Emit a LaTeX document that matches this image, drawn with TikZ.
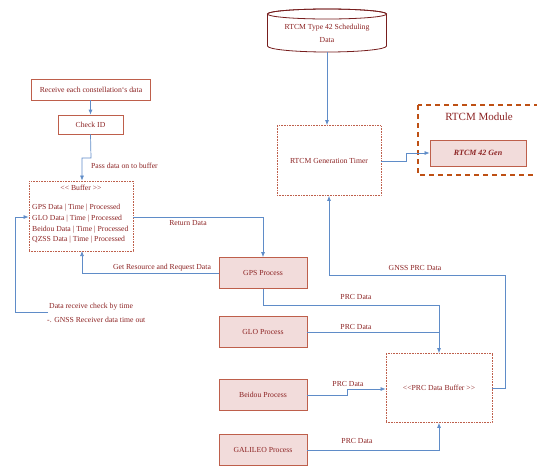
\documentclass[tikz,border=0pt]{standalone}
\usepackage{fontspec}
\setmainfont{Liberation Serif}
\usetikzlibrary{shapes.geometric,arrows.meta}
\definecolor{txt}{RGB}{140,35,35}
\definecolor{bord}{RGB}{190,95,75}
\definecolor{modc}{RGB}{190,80,20}
\definecolor{pinkf}{RGB}{242,220,219}
\definecolor{lnc}{RGB}{95,140,200}
\tikzset{
  base/.style={font=\fontsize{7.7}{9}\selectfont, text=txt, inner sep=1pt},
  plainbox/.style={base, draw=bord, line width=0.7pt, fill=white, minimum height=20pt},
  dotbox/.style={base, draw=bord, line width=0.8pt, dash pattern=on 0.8pt off 0.8pt},
  procbox/.style={base, draw=bord, line width=0.8pt, fill=pinkf, minimum width=88pt, minimum height=31pt},
  conn/.style={draw=lnc, line width=0.7pt},
  arr/.style={conn, -{Latex[length=5pt,width=4pt]}},
  lbl/.style={base}
}
\begin{document}
\begin{tikzpicture}[x=1pt,y=-1pt]
\useasboundingbox (0,0) rectangle (537,467);
\clip (0,0) rectangle (537,467);
% cylinder
\draw[txt!85!black, line width=0.8pt, fill=white]
  (267.5,14) -- (267.5,46) arc[start angle=180, end angle=0, x radius=59.5, y radius=6]
  -- (386.5,14) arc[start angle=0, end angle=-180, x radius=59.5, y radius=5];
\draw[txt!85!black, line width=0.8pt] (327,14) ellipse[x radius=59.5, y radius=5];
\node[base, align=center, font=\fontsize{7.7}{13}\selectfont, inner sep=0pt] (cyl) at (327,33)
  {RTCM Type 42 Scheduling\\Data};
% timer
\node[dotbox, minimum width=104pt, minimum height=70pt] (timer) at (329,160.5) {RTCM Generation Timer};
% module
\draw[modc, line width=1.3pt, dash pattern=on 5pt off 4pt] (418,105) rectangle (548,175);
\node[base, font=\fontsize{11}{12}\selectfont] (modlbl) at (479,117) {RTCM Module};
\node[base, draw=bord, line width=0.8pt, fill=pinkf, minimum width=96pt, minimum height=26pt,
  font=\fontsize{8}{9}\selectfont\bfseries\itshape] (gen) at (478,153) {RTCM 42 Gen};
% left boxes
\node[plainbox, minimum width=119pt, minimum height=21pt] (recv) at (91,89.5) {Receive each constellation`s data};
\node[plainbox, minimum width=65pt, minimum height=19pt] (check) at (90.5,124.5) {Check ID};
\node[dotbox, minimum width=104pt, minimum height=70pt] (buf) at (81,216) {};
\node[base] (buft) at (81,188) {{<}{<} Buffer {>}{>}};
\node[base, align=left, anchor=north west, font=\fontsize{7.7}{10.8}\selectfont] (bufl) at (31,203)
  {GPS Data | Time | Processed\\GLO Data | Time | Processed\\Beidou Data | Time | Processed\\QZSS Data | Time | Processed};
% process boxes
\node[procbox] (gps) at (263,273) {GPS Process};
\node[procbox] (glo) at (263,332) {GLO Process};
\node[procbox] (bei) at (263,395) {Beidou Process};
\node[procbox] (gal) at (263,450) {GALILEO Process};
% PRC buffer
\node[dotbox, minimum width=106pt, minimum height=69pt] (prcb) at (439,388) {{<}{<}PRC Data Buffer {>}{>}};
% coordinates
\coordinate (c0) at (327,52);
\coordinate (c1) at (91,158);
\coordinate (c2) at (82,158);
\coordinate (c3) at (48,312);
% connectors
\draw[arr] (c0) -- (c0 |- timer.north);
\draw[arr] (timer.east |- 0,161) -- (406,161) -- (406,153) -- (gen.west);
\draw[arr] (recv.south -| check.north) -- (check.north);
\draw[arr] (check.south) -- (c1) -- (c2) -- (c2 |- buf.north);
\draw[arr] (buf.east |- 0,217) -- (263,217) -- (gps.north);
\draw[arr] (gps.west) -- (82,273) -- (82,251);
\draw[arr] (c3) -- (15,312) -- (15,217) -- (buf.west |- 0,217);
\draw[arr] (prcb.east) -- (505,388) -- (505,275) -- (329,275) -- (timer.south);
\draw[arr] (gps.south) -- (263,305) -- (439,305) -- (prcb.north);
\draw[conn] (glo.east) -- (439,332);
\draw[arr] (bei.east) -- (347,395) -- (347,389) -- (prcb.west |- 0,389);
\draw[arr] (gal.east) -- (439,450) -- (prcb.south);
% labels
\node[lbl, anchor=west] (l1) at (90,166) {Pass data on to buffer};
\node[lbl] (l2) at (188,223) {Return Data};
\node[lbl] (l3) at (162,268) {Get Resource and Request Data};
\node[lbl, anchor=west] (l4) at (48,307) {Data receive check by time};
\node[lbl, anchor=west] (l5) at (46,320) {-. GNSS Receiver data time out};
\node[lbl] (l6) at (415,268) {GNSS PRC Data};
\node[lbl] (l7) at (356,297) {PRC Data};
\node[lbl] (l8) at (356,327) {PRC Data};
\node[lbl] (l9) at (348,384) {PRC Data};
\node[lbl] (l10) at (357,441) {PRC Data};
\end{tikzpicture}
\end{document}
